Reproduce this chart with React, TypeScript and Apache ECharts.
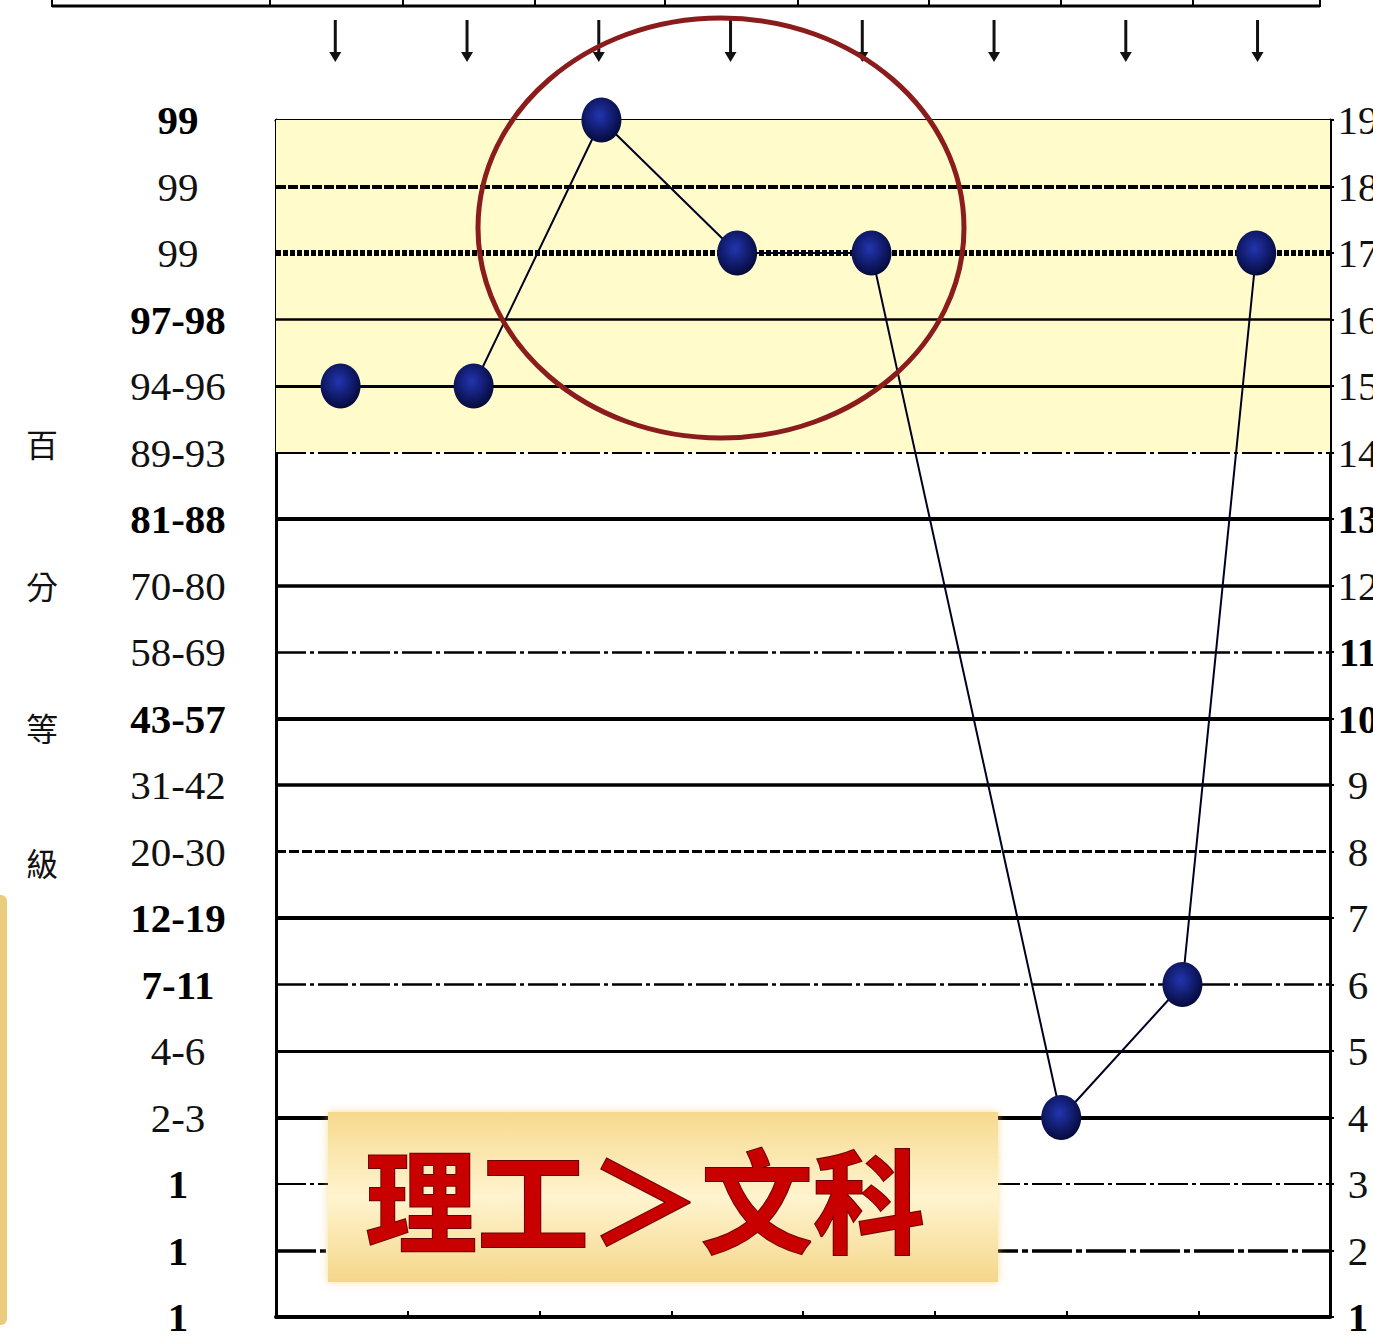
import React, { useEffect, useRef } from "react";
import * as echarts from "echarts";

// ---- data ----
const leftLabels = ["1", "1", "1", "2-3", "4-6", "7-11", "12-19", "20-30", "31-42", "43-57", "58-69", "70-80", "81-88", "89-93", "94-96", "97-98", "99", "99", "99"]; // values 1..19
const leftBold = [1, 2, 3, 6, 7, 10, 13, 16, 19];
const rightBold = [1, 10, 11, 13];
const xPos = [0.49, 1.5, 2.47, 3.5, 4.52, 5.96, 6.88, 7.44];
const yVals = [15, 15, 19, 17, 17, 4, 6, 17];
const sideTitle = ["百", "分", "等", "級"];
const calloutText = "理工＞文科";
const bandFrom = 14;
const bandTo = 19;
const gridValues = [18, 17, 16, 15, 14, 13, 12, 11, 10, 9, 8, 7, 6, 5, 4, 3, 2];

// ---- styles ----
const gridStyle: Record<number, any> = {
  18: { width: 4, type: [10, 2] },
  17: { width: 6, type: [5, 2] },
  16: { width: 2.5, type: "solid" },
  15: { width: 3, type: "solid" },
  14: { width: 2, type: [30, 4, 4, 4] },
  13: { width: 4, type: "solid" },
  12: { width: 3.5, type: "solid" },
  11: { width: 2.5, type: [30, 4, 4, 4] },
  10: { width: 4, type: "solid" },
  9: { width: 3.5, type: "solid" },
  8: { width: 3, type: [10, 3] },
  7: { width: 4, type: "solid" },
  6: { width: 2.5, type: [30, 4, 4, 4] },
  5: { width: 3, type: "solid" },
  4: { width: 4, type: "solid" },
  3: { width: 2, type: [30, 4, 4, 4] },
  2: { width: 3.5, type: [40, 4, 6, 4] },
};

const SERIF = '"Liberation Serif", "DejaVu Serif", serif';
const CJK = '"Noto Sans CJK TC", "Noto Sans CJK SC", sans-serif';

export default function App() {
  const ref = useRef<HTMLDivElement>(null);
  useEffect(() => {
    if (!ref.current) return;
    const chart = echarts.init(ref.current, null, { renderer: "svg" });
    const data = xPos.map((x, i) => [x, yVals[i]]);
    const option: any = {
      animation: false,
      backgroundColor: "#ffffff",
      grid: { left: 276, right: 43, top: 120, bottom: 18, outerBoundsMode: "none", containLabel: false },
      xAxis: [
        {
          type: "value",
          min: 0,
          max: 8,
          interval: 1,
          position: "bottom",
          axisLine: { show: true, onZero: false, lineStyle: { color: "#000", width: 4 } },
          axisTick: { show: true, inside: true, length: 6, lineStyle: { color: "#000", width: 2 } },
          axisLabel: { show: false },
          splitLine: { show: false },
        },
        {
          type: "value",
          min: 0,
          max: 8,
          interval: 1,
          position: "top",
          axisLine: { show: true, onZero: false, lineStyle: { color: "#000", width: 3 } },
          axisTick: { show: true, inside: true, length: 5, lineStyle: { color: "#000", width: 2 } },
          axisLabel: { show: false },
          splitLine: { show: false },
        },
      ],
      yAxis: [
        {
          type: "value",
          min: 1,
          max: 19,
          interval: 1,
          position: "left",
          axisLine: { show: true, onZero: false, lineStyle: { color: "#000", width: 3 } },
          axisTick: { show: false },
          splitLine: { show: false },
          axisLabel: {
            show: true,
            margin: 98,
            align: "center",
            formatter: (v: number) => {
              const lab = leftLabels[Math.round(v) - 1] ?? "";
              return leftBold.includes(Math.round(v)) ? `{b|${lab}}` : `{n|${lab}}`;
            },
            rich: {
              b: { fontFamily: SERIF, fontSize: 41, fontWeight: "bold", color: "#000" },
              n: { fontFamily: SERIF, fontSize: 41, color: "#111" },
            },
          },
        },
        {
          type: "value",
          min: 1,
          max: 19,
          interval: 1,
          position: "right",
          axisLine: { show: true, onZero: false, lineStyle: { color: "#000", width: 3 } },
          axisTick: { show: true, inside: false, length: 4, lineStyle: { color: "#000", width: 2 } },
          splitLine: { show: false },
          axisLabel: {
            show: true,
            margin: 28,
            align: "center",
            formatter: (v: number) => (rightBold.includes(Math.round(v)) ? `{b|${v}}` : `{n|${v}}`),
            rich: {
              b: { fontFamily: SERIF, fontSize: 41, fontWeight: "bold", color: "#000" },
              n: { fontFamily: SERIF, fontSize: 41, color: "#111" },
            },
          },
        },
      ],
      series: [
        {
          type: "line",
          z: 1,
          silent: true,
          data,
          symbol: "none",
          lineStyle: { opacity: 0 },
          markArea: {
            silent: true,
            itemStyle: { color: "#FFFBCB" },
            data: [[{ yAxis: bandFrom }, { yAxis: bandTo }]],
          },
          markLine: {
            silent: true,
            symbol: "none",
            label: { show: false },
            data: gridValues.map((v) => ({
              yAxis: v,
              lineStyle: { color: "#000", width: gridStyle[v].width, type: gridStyle[v].type },
            })),
          },
        },
        {
          type: "line",
          z: 5,
          data,
          symbol: "circle",
          symbolSize: [40, 45],
          lineStyle: { color: "#000022", width: 2 },
          itemStyle: {
            color: new echarts.graphic.RadialGradient(0.45, 0.4, 0.6, [
              { offset: 0, color: "#2235b0" },
              { offset: 1, color: "#050a3c" },
            ]),
            borderWidth: 0,
          },
        },
      ],
    };
    chart.setOption(option);

    const arrowEls: any[] = [];
    for (let i = 0; i < 8; i++) {
      const x = chart.convertToPixel({ xAxisIndex: 0 }, i + 0.45) as number;
      arrowEls.push({
        type: "line",
        shape: { x1: x, y1: 20, x2: x, y2: 56 },
        style: { stroke: "#111", lineWidth: 3 },
      });
      arrowEls.push({
        type: "polygon",
        shape: { points: [[x - 6, 52], [x + 6, 52], [x, 62]] },
        style: { fill: "#111" },
      });
    }
    const dividers = [52, 270, 403, 535, 665, 798, 929, 1061, 1193, 1320];
    const tableEls: any[] = [
      { type: "line", shape: { x1: 52, y1: 6, x2: 1320, y2: 6 }, style: { stroke: "#000", lineWidth: 3 } },
      ...dividers.map((d) => ({
        type: "line",
        shape: { x1: d, y1: 0, x2: d, y2: 7 },
        style: { stroke: "#000", lineWidth: 2 },
      })),
    ];
    const titleEls = sideTitle.map((c, i) => ({
      type: "text",
      x: 42,
      y: [443, 585, 727, 862][i],
      style: { text: c, font: `32px ${CJK}`, fill: "#111", align: "center", verticalAlign: "middle" },
    }));

    chart.setOption({
      graphic: [
        ...tableEls,
        ...arrowEls,
        ...titleEls,
        {
          type: "rect",
          shape: { x: -10, y: 895, width: 17, height: 430, r: 6 },
          style: { fill: "#EBCB7E" },
        },
        {
          type: "ellipse",
          z: 100,
          shape: { cx: 721, cy: 228, rx: 243, ry: 210 },
          style: { fill: "none", stroke: "#8B1C1C", lineWidth: 5 },
        },
        {
          type: "rect",
          z: 100,
          shape: { x: 328, y: 1112, width: 670, height: 170 },
          style: {
            fill: new echarts.graphic.LinearGradient(0, 0, 0, 1, [
              { offset: 0, color: "#F6D98E" },
              { offset: 0.5, color: "#FFF4CF" },
              { offset: 1, color: "#F5D68A" },
            ]),
            shadowBlur: 8,
            shadowColor: "rgba(240,200,100,0.6)",
          },
        },
        {
          type: "text",
          z: 101,
          x: 645,
          y: 1196,
          style: {
            text: calloutText,
            font: `bold 112px ${CJK}`,
            fill: "#C80000",
            stroke: "#6B0000",
            lineWidth: 2,
            align: "center",
            verticalAlign: "middle",
          },
        },
      ],
    });
    return () => chart.dispose();
  }, []);
  return (
    <div
      ref={ref}
      style={{ position: "fixed", left: 0, top: 0, width: 1373, height: 1335, background: "#fff" }}
    />
  );
}
